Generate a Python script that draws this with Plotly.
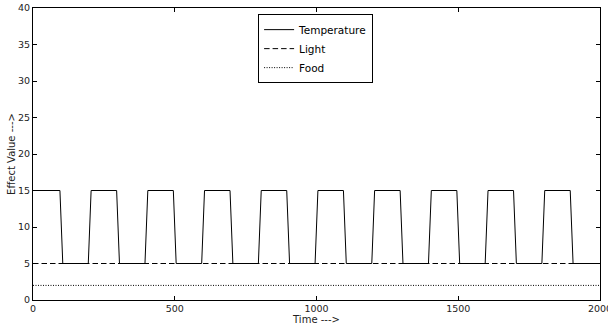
import plotly.graph_objects as go

# Temperature effect: square wave breakpoints (time, value)
temp_time = [0, 95, 105, 195, 205, 295, 305, 395, 405, 495, 505, 595, 605,
             695, 705, 795, 805, 895, 905, 995, 1005, 1095, 1105, 1195, 1205,
             1295, 1305, 1395, 1405, 1495, 1505, 1595, 1605, 1695, 1705,
             1795, 1805, 1895, 1905, 2000]
temp_value = [15, 15, 5, 5, 15, 15, 5, 5, 15, 15, 5, 5, 15,
              15, 5, 5, 15, 15, 5, 5, 15, 15, 5, 5, 15,
              15, 5, 5, 15, 15, 5, 5, 15, 15, 5,
              5, 15, 15, 5, 5]

# Light and food effects are constant over the run
const_time = [0, 2000]
light_value = [5, 5]
food_value = [2, 2]

x_ticks = [0, 500, 1000, 1500, 2000]
y_ticks = [0, 5, 10, 15, 20, 25, 30, 35, 40]

font = "DejaVu Sans, sans-serif"

fig = go.Figure()
fig.add_trace(go.Scatter(x=temp_time, y=temp_value, mode="lines", name="Temperature",
                         line=dict(color="black", width=1)))
fig.add_trace(go.Scatter(x=const_time, y=light_value, mode="lines", name="Light",
                         line=dict(color="black", width=1, dash="5.5px,3px")))
fig.add_trace(go.Scatter(x=const_time, y=food_value, mode="lines", name="Food",
                         line=dict(color="black", width=1, dash="1px,1.5px")))

axis_common = dict(showgrid=False, zeroline=False, showline=True, linecolor="black",
                   linewidth=1, mirror="allticks", ticks="inside", ticklen=4,
                   tickcolor="black", automargin=False, ticklabeloverflow="allow",
                   tickfont=dict(family=font, size=9.5, color="#222"))

fig.update_xaxes(range=[0, 2000], tickvals=x_ticks,
                 title=dict(text="Time --->", font=dict(family=font, size=10, color="#222"),
                            standoff=0),
                 **axis_common)
fig.update_yaxes(range=[0, 40], tickvals=y_ticks,
                 title=dict(text="Effect Value --->", font=dict(family=font, size=10, color="#222"),
                            standoff=0),
                 **axis_common)

fig.update_layout(
    width=608, height=326,
    margin=dict(l=33, r=8, t=8, b=26),
    paper_bgcolor="white", plot_bgcolor="white",
    showlegend=True,
    legend=dict(x=0.397, y=0.979, xanchor="left", yanchor="top",
                bgcolor="white", bordercolor="black", borderwidth=1,
                font=dict(family=font, size=10.5, color="black"),
                itemwidth=30, tracegroupgap=0),
)

fig.write_html("out.html")
